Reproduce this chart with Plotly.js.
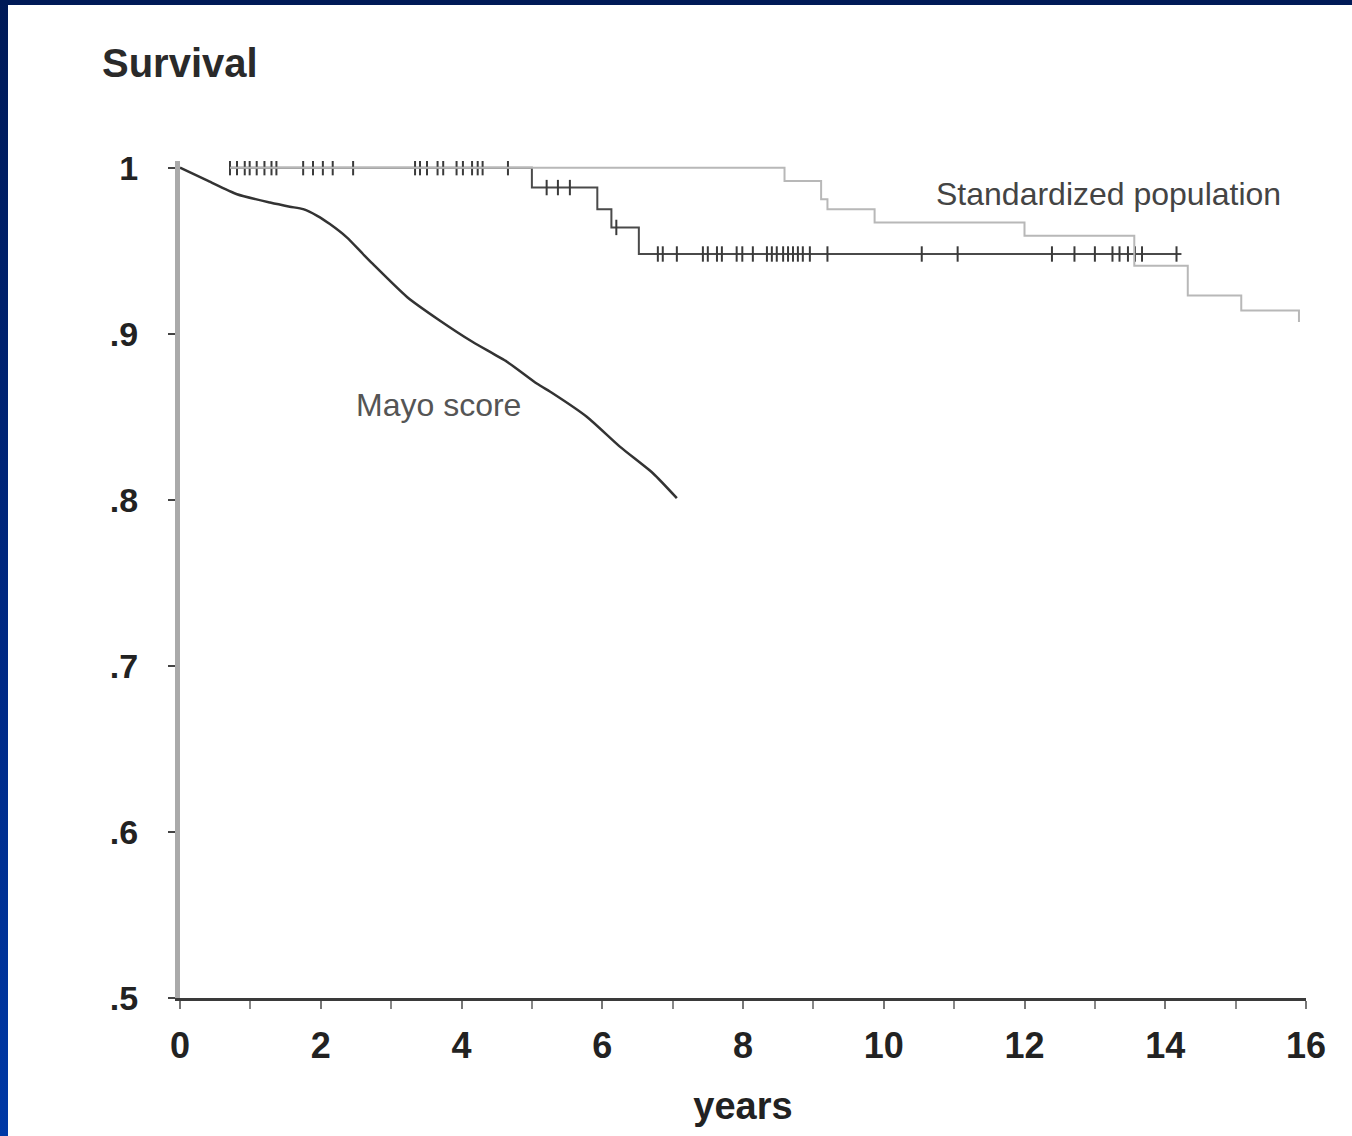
<!DOCTYPE html>
<html>
<head>
<meta charset="utf-8">
<script src="https://cdn.plot.ly/plotly-3.0.1.min.js"></script>
<style>
  html, body { margin: 0; padding: 0; width: 1352px; height: 1136px; overflow: hidden;
    background: linear-gradient(to bottom, #001a57 0%, #002a86 60%, #0039a6 100%); }
  #chart { position: absolute; left: 8px; top: 5px; width: 1344px; height: 1131px; background: #ffffff; }
</style>
</head>
<body>
<div id="chart"></div>
<script>
// Mayo score (predicted survival)
const mayoYears = [0, 0.4, 0.81, 1.28, 1.56, 1.75, 1.95, 2.13, 2.37, 2.6, 2.74, 3.23, 3.69, 4.16, 4.65, 5.07, 5.3, 5.78, 6.25, 6.72, 7.06];
const mayoSurv  = [1, 0.992, 0.984, 0.979, 0.9765, 0.975, 0.971, 0.966, 0.958, 0.948, 0.942, 0.922, 0.908, 0.895, 0.883, 0.870, 0.864, 0.850, 0.832, 0.816, 0.801];

// Observed Kaplan-Meier survival (step)
const obsYears = [0.71, 5.0, 5.93, 6.13, 6.52, 14.23];
const obsSurv  = [1, 0.988, 0.975, 0.964, 0.948, 0.948];

// Censored observations (tick marks)
const censorYears = [0.71, 0.81, 0.92, 0.99, 1.09, 1.2, 1.3, 1.37, 1.75, 1.89, 2.03, 2.17, 2.46,
  3.34, 3.41, 3.51, 3.66, 3.74, 3.93, 4.02, 4.15, 4.23, 4.30, 4.66,
  5.21, 5.37, 5.54,
  6.2,
  6.79, 6.86, 7.06, 7.43, 7.5, 7.63, 7.7, 7.91, 7.99, 8.14, 8.34, 8.41, 8.48, 8.57, 8.64, 8.71,
  8.78, 8.85, 8.95, 9.2, 10.54, 11.05, 12.39, 12.71, 13.0, 13.25, 13.35, 13.47, 13.57, 13.67, 14.16];
const censorSurv = [1, 1, 1, 1, 1, 1, 1, 1, 1, 1, 1, 1, 1,
  1, 1, 1, 1, 1, 1, 1, 1, 1, 1, 1,
  0.988, 0.988, 0.988,
  0.964,
  0.948, 0.948, 0.948, 0.948, 0.948, 0.948, 0.948, 0.948, 0.948, 0.948, 0.948, 0.948, 0.948, 0.948, 0.948, 0.948,
  0.948, 0.948, 0.948, 0.948, 0.948, 0.948, 0.948, 0.948, 0.948, 0.948, 0.948, 0.948, 0.948, 0.948, 0.948];

// Standardized population expected survival (step)
const stdYears = [0.71, 8.59, 9.11, 9.2, 9.87, 12.0, 13.56, 14.32, 15.08, 15.9];
const stdSurv  = [1, 0.992, 0.981, 0.975, 0.967, 0.959, 0.941, 0.923, 0.914, 0.907];

// Axis ticks
const yTickVals = [0.5, 0.6, 0.7, 0.8, 0.9, 1];
const yTickText = ['.5', '.6', '.7', '.8', '.9', '1'];
const xTickVals = [0, 2, 4, 6, 8, 10, 12, 14, 16];
const xTickText = ['0', '2', '4', '6', '8', '10', '12', '14', '16'];

const FONT = '"Liberation Sans", Arial, sans-serif';

const traces = [
  { x: obsYears, y: obsSurv, type: 'scatter', mode: 'lines', line: { shape: 'hv', color: '#4a4a4a', width: 2 }, hoverinfo: 'skip' },
  { x: censorYears, y: censorSurv, type: 'scatter', mode: 'markers',
    marker: { symbol: 'line-ns-open', size: 11, color: '#3a3a3a', line: { width: 2, color: '#3a3a3a' } }, hoverinfo: 'skip' },
  { x: stdYears, y: stdSurv, type: 'scatter', mode: 'lines', line: { shape: 'hv', color: '#b8b8b8', width: 2 }, hoverinfo: 'skip' },
  { x: mayoYears, y: mayoSurv, type: 'scatter', mode: 'lines', line: { shape: 'spline', smoothing: 0.6, color: '#333333', width: 2.5 }, hoverinfo: 'skip' }
];

const layout = {
  width: 1344, height: 1131,
  margin: { l: 172, r: 46, t: 156, b: 138 },
  paper_bgcolor: '#ffffff', plot_bgcolor: '#ffffff',
  showlegend: false,
  font: { family: FONT, color: '#222222' },
  xaxis: {
    range: [0, 16], tickmode: 'array', tickvals: xTickVals, ticktext: xTickText,
    showgrid: false, zeroline: false, showline: true, linecolor: '#3a3a3a', linewidth: 3,
    ticks: 'outside', ticklen: 8, tickwidth: 2, tickcolor: '#777777',
    minor: { dtick: 1, ticks: 'outside', ticklen: 8, tickwidth: 2, tickcolor: '#888888', showgrid: false },
    tickfont: { family: FONT, size: 36, color: '#222222', weight: 'bold' },
    ticklabelstandoff: 6,
    title: { text: '<b>years</b>', font: { family: FONT, size: 38, color: '#222222' }, standoff: 28 }
  },
  yaxis: {
    range: [0.5, 1.004], tickmode: 'array', tickvals: yTickVals, ticktext: yTickText,
    showgrid: false, zeroline: false, showline: true, linecolor: '#aaaaaa', linewidth: 5,
    ticks: 'outside', ticklen: 7, tickwidth: 2, tickcolor: '#444444',
    tickfont: { family: FONT, size: 34, color: '#222222', weight: 'bold' },
    ticklabelstandoff: 23
  },
  annotations: [
    { text: '<b>Survival</b>', xref: 'paper', yref: 'paper', x: -0.071, y: 1.117, xanchor: 'left', yanchor: 'middle',
      showarrow: false, font: { family: FONT, size: 40, color: '#2a2a2a' } },
    { text: 'Standardized population', xref: 'x', yref: 'y', x: 13.2, y: 0.984, xanchor: 'center', yanchor: 'middle',
      showarrow: false, font: { family: FONT, size: 32, color: '#444444' } },
    { text: 'Mayo score', xref: 'x', yref: 'y', x: 3.67, y: 0.857, xanchor: 'center', yanchor: 'middle',
      showarrow: false, font: { family: FONT, size: 32, color: '#555555' } }
  ]
};

Plotly.newPlot('chart', traces, layout, { staticPlot: true, displayModeBar: false });
</script>
</body>
</html>
